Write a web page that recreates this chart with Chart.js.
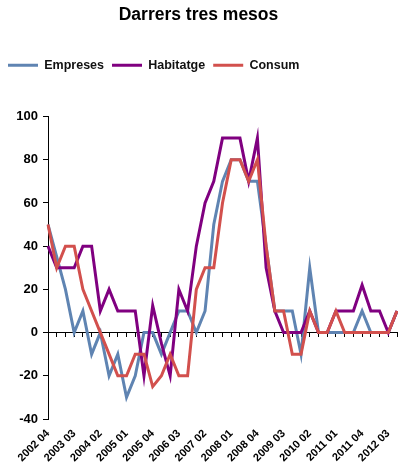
<!DOCTYPE html>
<html>
<head>
<meta charset="utf-8">
<title>Darrers tres mesos</title>
<script src="https://cdn.jsdelivr.net/npm/chart.js@4.4.1/dist/chart.umd.min.js"></script>
<style>
  body { margin: 0; background: #fff; }
  #wrap { width: 398px; height: 472px; }
</style>
</head>
<body>
<div id="wrap"><canvas id="chart" width="398" height="472"></canvas></div>
<script>
// Quarterly labels, 2002 04 .. 2012 04
const quarters = [
  '2002 04',
  '2003 01', '2003 02', '2003 03', '2003 04',
  '2004 01', '2004 02', '2004 03', '2004 04',
  '2005 01', '2005 02', '2005 03', '2005 04',
  '2006 01', '2006 02', '2006 03', '2006 04',
  '2007 01', '2007 02', '2007 03', '2007 04',
  '2008 01', '2008 02', '2008 03', '2008 04',
  '2009 01', '2009 02', '2009 03', '2009 04',
  '2010 01', '2010 02', '2010 03', '2010 04',
  '2011 01', '2011 02', '2011 03', '2011 04',
  '2012 01', '2012 02', '2012 03', '2012 04'
];

const empreses = [50, 35, 20, 0, 10, -10, 0, -20, -10, -30, -20, 0, 0, -10, 0, 10, 10, 0, 10, 50, 70,
  80, 80, 70, 70, 40, 10, 10, 10, -10, 30, 0, 0, 0, 0, 0, 10, 0, 0, 0, 10];
const habitatge = [40, 30, 30, 30, 40, 40, 10, 20, 10, 10, 10, -20, 12.5, -5, -20, 20, 10, 40, 60, 70,
  90, 90, 90, 70, 90, 30, 10, 0, 0, 0, 10, 0, 0, 10, 10, 10, 22, 10, 10, 0, 10];
const consum = [50, 30, 40, 40, 20, 10, 0, -10, -20, -20, -10, -10, -25, -20, -10, -20, -20, 20, 30, 30,
  60, 80, 80, 70, 80, 40, 10, 10, -10, -10, 10, 0, 0, 10, 0, 0, 0, 0, 0, 0, 10];

const yTicks = [-40, -20, 0, 20, 40, 60, 80, 100];

const FONT = 'Arial, "Liberation Sans", sans-serif';

// extra room between legend and plot
const legendGap = {
  id: 'legendGap',
  afterInit(chart) {
    const fit = chart.legend.fit;
    chart.legend.fit = function () {
      fit.call(this);
      this.height += 35;
    };
  }
};

function series(label, data, color, order) {
  return {
    label,
    data,
    borderColor: color,
    backgroundColor: color,
    borderWidth: 3,
    pointRadius: 0,
    tension: 0,
    fill: false,
    order,
    xAxisID: 'x',
    yAxisID: 'y'
  };
}

new Chart(document.getElementById('chart'), {
  type: 'line',
  data: {
    labels: quarters,
    datasets: [
      series('Empreses', empreses, '#5f84b2', 3),
      series('Habitatge', habitatge, '#800080', 2),
      series('Consum', consum, '#d2504d', 1)
    ]
  },
  options: {
    responsive: false,
    animation: false,
    layout: { padding: { left: 0, right: 1, top: 0, bottom: 0 } },
    plugins: {
      title: {
        display: true,
        text: 'Darrers tres mesos',
        color: '#000',
        font: { family: FONT, size: 17.5, weight: 'bold' },
        padding: { top: 5, bottom: 25 }
      },
      legend: {
        align: 'start',
        labels: {
          usePointStyle: true,
          pointStyle: 'line',
          pointStyleWidth: 30,
          color: '#111',
          padding: 8,
          font: { family: FONT, size: 12.5, weight: 'bold' },
          sort: (a, b) => a.datasetIndex - b.datasetIndex
        }
      },
      tooltip: { enabled: false }
    },
    scales: {
      x: {
        type: 'category',
        position: 'bottom',
        offset: false,
        grid: { display: false, drawTicks: false },
        border: { display: false },
        ticks: {
          autoSkip: false,
          minRotation: 45,
          maxRotation: 45,
          padding: 8,
          color: '#000',
          font: { family: FONT, size: 11, weight: 'bold' },
          callback: (value, index) => (index % 3 === 0 ? quarters[index] : '')
        },
        afterFit(scale) {
          scale.height = 53;
          scale.paddingLeft = 0;
          scale.paddingRight = 0;
        }
      },
      // zero line with quarterly tick marks
      x2: {
        type: 'category',
        axis: 'x',
        labels: quarters,
        position: { y: 0 },
        offset: false,
        grid: { drawOnChartArea: false, drawTicks: true, tickLength: 4, color: '#000', lineWidth: 1 },
        border: { display: true, color: '#000', width: 1 },
        ticks: { display: false }
      },
      y: {
        min: -40,
        max: 100,
        afterBuildTicks(scale) { scale.ticks = yTicks.map(v => ({ value: v })); },
        grid: { drawOnChartArea: false, drawTicks: true, tickLength: 5, color: '#000' },
        border: { display: true, color: '#000', width: 1 },
        ticks: {
          padding: 5,
          color: '#000',
          font: { family: FONT, size: 13, weight: 'bold' }
        },
        afterFit(scale) { scale.width = 48; }
      }
    }
  },
  plugins: [legendGap]
});
</script>
</body>
</html>
